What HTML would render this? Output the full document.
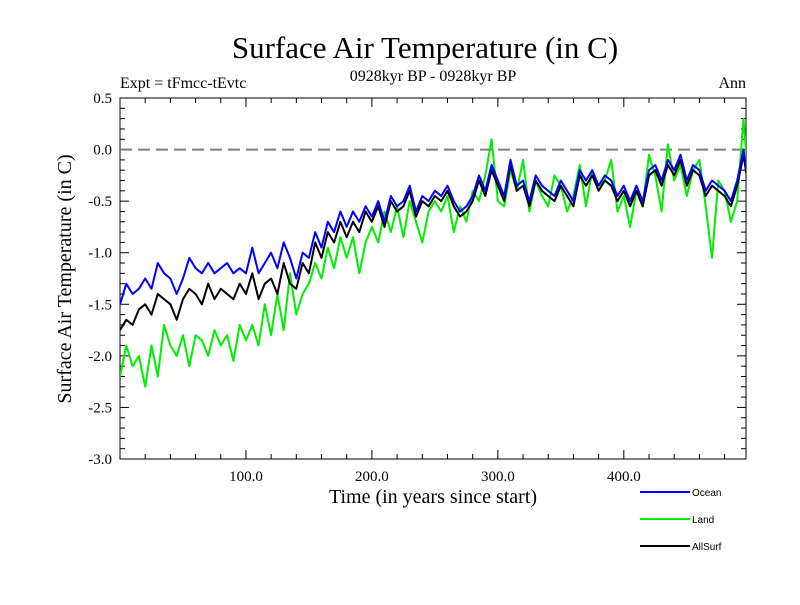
<!DOCTYPE html>
<html><head><meta charset="utf-8"><style>
body{margin:0;background:#fff}
svg text{font-family:"Liberation Serif",serif}
</style></head><body>
<svg id="chart" width="800" height="600" viewBox="0 0 800 600" xmlns="http://www.w3.org/2000/svg">
<rect width="800" height="600" fill="#fff"/>
<text x="425" y="58" font-size="31" text-anchor="middle">Surface Air Temperature (in C)</text>
<text x="433" y="81" font-size="16" text-anchor="middle">0928kyr BP - 0928kyr BP</text>
<text x="120" y="88" font-size="16">Expt = tFmcc-tEvtc</text>
<text x="746" y="88" font-size="16" text-anchor="end">Ann</text>
<text transform="translate(71,279) rotate(-90)" font-size="20" text-anchor="middle">Surface Air Temperature (in C)</text>
<text x="433" y="503" font-size="20" text-anchor="middle">Time (in years since start)</text>
<defs><clipPath id="pc"><rect x="120" y="98" width="626" height="361"/></clipPath></defs>
<g id="axes"></g>
<g id="series" clip-path="url(#pc)"></g>
<g id="legend"></g>
</svg>
<script>
const years=[];for(let i=0;i<=100;i++)years.push(i*5);
const ocean=[-1.5,-1.3,-1.4,-1.35,-1.25,-1.35,-1.1,-1.2,-1.25,-1.4,-1.25,
-1.05,-1.15,-1.2,-1.1,-1.2,-1.15,-1.1,-1.2,-1.15,-1.2,
-0.95,-1.2,-1.1,-1.0,-1.15,-0.9,-1.05,-1.25,-1.0,-1.05,
-0.8,-0.95,-0.7,-0.8,-0.6,-0.75,-0.6,-0.7,-0.55,-0.65,
-0.5,-0.7,-0.45,-0.55,-0.5,-0.35,-0.6,-0.45,-0.5,-0.4,
-0.45,-0.35,-0.5,-0.6,-0.55,-0.45,-0.25,-0.4,-0.15,-0.3,
-0.45,-0.1,-0.35,-0.3,-0.5,-0.25,-0.35,-0.4,-0.45,-0.3,
-0.4,-0.5,-0.2,-0.3,-0.2,-0.35,-0.25,-0.3,-0.45,-0.35,
-0.5,-0.35,-0.5,-0.2,-0.15,-0.3,-0.1,-0.2,-0.05,-0.3,
-0.15,-0.2,-0.4,-0.3,-0.35,-0.4,-0.5,-0.3,0.0,-0.4];
const land=[-2.2,-1.9,-2.1,-2.0,-2.3,-1.9,-2.2,-1.7,-1.9,-2.0,-1.8,
-2.1,-1.8,-1.85,-2.0,-1.75,-1.9,-1.8,-2.05,-1.7,-1.85,
-1.7,-1.9,-1.5,-1.8,-1.4,-1.75,-1.2,-1.6,-1.4,-1.3,
-1.1,-1.25,-0.95,-1.15,-0.85,-1.05,-0.85,-1.2,-0.9,-0.75,
-0.9,-0.6,-0.8,-0.55,-0.85,-0.5,-0.7,-0.9,-0.6,-0.5,
-0.6,-0.45,-0.8,-0.55,-0.7,-0.4,-0.5,-0.25,0.1,-0.5,
-0.55,-0.2,-0.4,-0.1,-0.6,-0.3,-0.45,-0.55,-0.25,-0.35,
-0.6,-0.45,-0.15,-0.55,-0.2,-0.35,-0.3,-0.1,-0.6,-0.45,
-0.75,-0.4,-0.55,-0.05,-0.25,-0.6,0.05,-0.3,-0.15,-0.45,
-0.2,-0.1,-0.55,-1.05,-0.3,-0.4,-0.7,-0.5,0.3,-0.5];
const allsurf=[-1.75,-1.65,-1.7,-1.55,-1.5,-1.6,-1.4,-1.45,-1.5,-1.65,-1.45,
-1.35,-1.4,-1.5,-1.3,-1.45,-1.35,-1.4,-1.45,-1.3,-1.4,
-1.2,-1.45,-1.3,-1.25,-1.4,-1.1,-1.3,-1.35,-1.1,-1.2,
-0.9,-1.05,-0.8,-0.9,-0.7,-0.85,-0.7,-0.8,-0.6,-0.7,
-0.55,-0.75,-0.5,-0.6,-0.55,-0.4,-0.65,-0.5,-0.55,-0.45,
-0.5,-0.4,-0.55,-0.65,-0.6,-0.5,-0.3,-0.45,-0.2,-0.35,
-0.5,-0.15,-0.4,-0.35,-0.55,-0.3,-0.4,-0.45,-0.5,-0.35,
-0.45,-0.55,-0.25,-0.35,-0.25,-0.4,-0.3,-0.35,-0.5,-0.4,
-0.55,-0.4,-0.55,-0.25,-0.2,-0.35,-0.15,-0.25,-0.1,-0.35,
-0.2,-0.25,-0.45,-0.35,-0.4,-0.45,-0.55,-0.35,-0.05,-0.45];
const yTicks=[0.5,0.0,-0.5,-1.0,-1.5,-2.0,-2.5,-3.0];
const xTicks=[100,200,300,400];
const X0=120,X1=746,Y0=98,Y1=459,XMIN=0,XMAX=497,YMIN=-3,YMAX=0.5;
const sx=v=>X0+(v-XMIN)/(XMAX-XMIN)*(X1-X0);
const sy=v=>Y1-(v-YMIN)/(YMAX-YMIN)*(Y1-Y0);
const NS="http://www.w3.org/2000/svg";
function mk(t,a,p){const e=document.createElementNS(NS,t);for(const k in a)e.setAttribute(k,a[k]);p.appendChild(e);return e;}
const ax=document.getElementById('axes');
const frame=mk('rect',{x:X0,y:Y0,width:X1-X0,height:Y1-Y0,fill:'none',stroke:'#000','stroke-width':1},ax);


for(let v=YMIN;v<=YMAX+1e-9;v+=0.1){const major=Math.abs(v*2-Math.round(v*2))<1e-6;const L=major?9:5;
mk('line',{x1:X0,x2:X0+L,y1:sy(v),y2:sy(v),stroke:'#000'},ax);mk('line',{x1:X1,x2:X1-L,y1:sy(v),y2:sy(v),stroke:'#000'},ax);}
for(let v=20;v<XMAX;v+=20){const major=v%100===0;const L=major?9:5;
mk('line',{x1:sx(v),x2:sx(v),y1:Y0,y2:Y0+L,stroke:'#000'},ax);mk('line',{x1:sx(v),x2:sx(v),y1:Y1,y2:Y1-L,stroke:'#000'},ax);}
yTicks.forEach(v=>{const t=mk('text',{x:X0-8,y:sy(v)+5,'font-size':15,'text-anchor':'end'},ax);t.textContent=v.toFixed(1);

});
xTicks.forEach(v=>{const t=mk('text',{x:sx(v),y:Y1+22,'font-size':15,'text-anchor':'middle'},ax);t.textContent=v.toFixed(1);

});
const zl=mk('line',{x1:X0,x2:X1,y1:sy(0),y2:sy(0),stroke:'#808080','stroke-width':2,'stroke-dasharray':'12,6'},ax);


const sg=document.getElementById('series');
function line(vals,col,name){const d=vals.map((v,i)=>(i?'L':'M')+sx(years[i]).toFixed(1)+','+sy(v).toFixed(1)).join('');
const p=mk('path',{d:d,fill:'none',stroke:col,'stroke-width':2,'stroke-linejoin':'round'},sg);

}
line(land,'#00ee00','land-series');
line(allsurf,'#000000','allsurf-series');
line(ocean,'#0000ff','ocean-series');
const lg=document.getElementById('legend');
[['Ocean','#0000ff',492],['Land','#00ee00',519],['AllSurf','#000000',546]].forEach(([n,c,y])=>{
const g=mk('g',{},lg);


mk('line',{x1:640,x2:690,y1:y,y2:y,stroke:c,'stroke-width':2},g);
const t=mk('text',{x:692,y:y+4,'font-size':10,style:'font-family:"Liberation Sans",sans-serif'},g);t.textContent=n;});
</script>
</body></html>
